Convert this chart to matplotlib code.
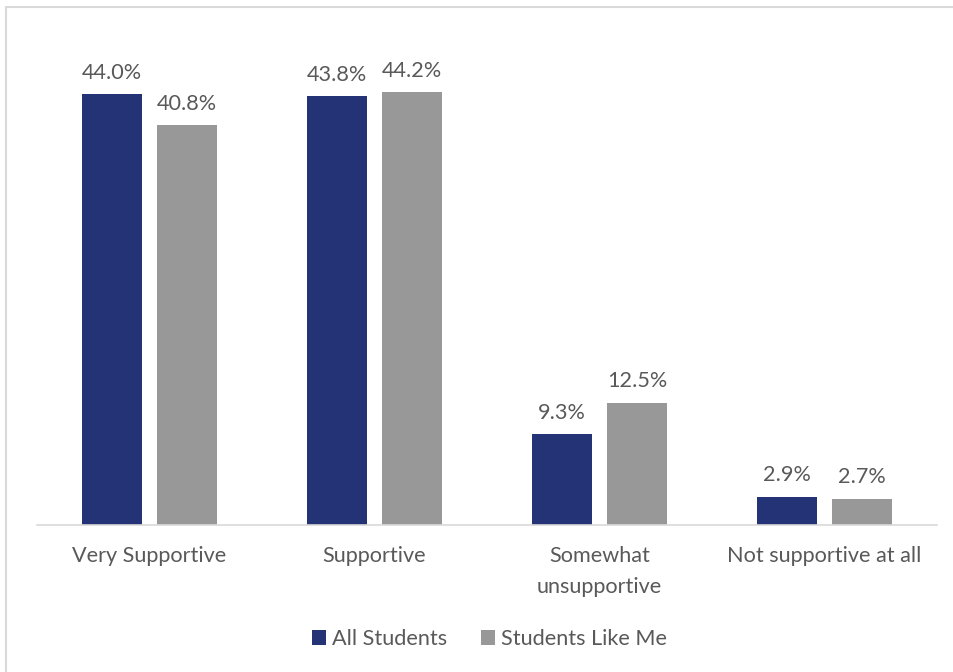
import matplotlib
matplotlib.use("Agg")
import matplotlib.pyplot as plt
from matplotlib.patches import Rectangle
import numpy as np

plt.rcParams['font.family'] = ['Lato', 'DejaVu Sans']

categories = ["Very Supportive", "Supportive", "Somewhat\nunsupportive", "Not supportive at all"]
series_names = ["All Students", "Students Like Me"]
all_students = [44.0, 43.8, 9.3, 2.9]
students_like_me = [40.8, 44.2, 12.5, 2.7]

navy = "#243276"
gray = "#989898"
text_color = "#595959"
fs = 15.6

fig = plt.figure(figsize=(9.54, 6.72), dpi=100)
ax = fig.add_axes([37 / 954, 147 / 672, 900 / 954, 490 / 672])

x = np.arange(len(categories))
w = 0.267
off = 0.167
b1 = ax.bar(x - off, all_students, w, color=navy, label=series_names[0])
b2 = ax.bar(x + off, students_like_me, w, color=gray, label=series_names[1])

for bars, vals in ((b1, all_students), (b2, students_like_me)):
    for rect, v in zip(bars, vals):
        ax.annotate(f"{v:.1f}%", (rect.get_x() + rect.get_width() / 2, v),
                    xytext=(0, 8), textcoords="offset points",
                    ha="center", va="bottom", fontsize=fs, color=text_color)

ax.set_xlim(-0.5, len(categories) - 0.5)
ax.set_ylim(0, 50)
ax.set_yticks([])
ax.set_xticks(x)
ax.set_xticklabels(categories, fontsize=fs, color=text_color, linespacing=1.7)
ax.tick_params(axis="x", length=0, pad=15)
for s in ("top", "right", "left"):
    ax.spines[s].set_visible(False)
ax.spines["bottom"].set_color("#d9d9d9")
ax.spines["bottom"].set_linewidth(1.2)

leg = fig.legend(handles=[b1, b2], labels=series_names, loc="center",
                 bbox_to_anchor=(0.513, 1 - 639 / 672), ncol=2, frameon=False,
                 fontsize=fs, handlelength=0.65, handleheight=0.65,
                 handletextpad=0.25, columnspacing=1.6)
for t in leg.get_texts():
    t.set_color(text_color)

# chart-area border along the top and left edges
fig.patches.append(Rectangle((6.5 / 954, -0.1), 1.2, (672 - 6.5) / 672 + 0.1,
                             transform=fig.transFigure, fill=False,
                             edgecolor="#d9d9d9", linewidth=1.5))

fig.savefig("out.png", dpi=100)
